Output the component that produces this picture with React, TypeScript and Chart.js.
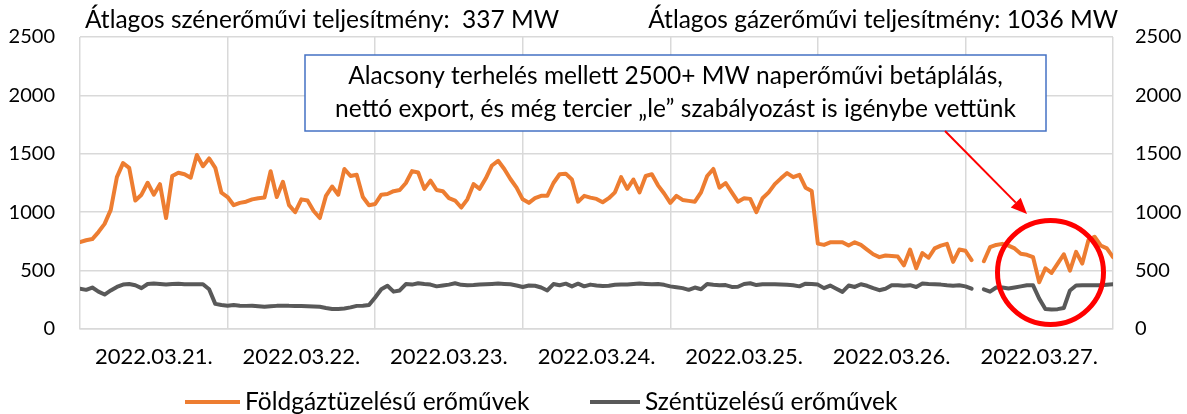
import React, { useEffect, useRef } from 'react';
import { Chart, registerables } from 'chart.js';

Chart.register(...registerables);

// ---- Data ----
const dayLabels = ['2022.03.21.', '2022.03.22.', '2022.03.23.', '2022.03.24.', '2022.03.25.', '2022.03.26.', '2022.03.27.'];

// Hourly values (MW), hour 0 of 03.21 .. hour 0 of 03.28
const gasValues: (number | null)[] = [
  // 03.21
  745, 760, 770, 830, 900, 1020, 1300, 1420, 1380, 1100, 1150, 1252, 1150, 1240, 950, 1310, 1338, 1325, 1295, 1490, 1394, 1460, 1380, 1167,
  // 03.22
  1130, 1060, 1080, 1090, 1110, 1120, 1125, 1350, 1130, 1260, 1060, 1000, 1110, 1100, 1010, 950, 1140, 1220, 1150, 1370, 1310, 1320, 1130, 1060,
  // 03.23
  1070, 1150, 1156, 1180, 1190, 1250, 1352, 1340, 1200, 1270, 1190, 1180, 1120, 1100, 1040, 1110, 1240, 1200, 1290, 1400, 1440, 1370, 1284, 1210,
  // 03.24
  1110, 1080, 1120, 1140, 1140, 1250, 1325, 1330, 1280, 1090, 1140, 1125, 1114, 1085, 1120, 1170, 1300, 1200, 1280, 1170, 1310, 1325, 1230, 1160,
  // 03.25
  1080, 1140, 1105, 1097, 1090, 1170, 1310, 1370, 1210, 1250, 1170, 1090, 1120, 1114, 1000, 1120, 1170, 1240, 1290, 1335, 1300, 1320, 1210, 1182,
  // 03.26
  731, 720, 742, 742, 742, 714, 742, 720, 680, 640, 615, 629, 625, 620, 545, 680, 520, 650, 610, 690, 714, 729, 575, 680,
  // 03.27 (+ final point)
  670, 590, null, 580, 700, 720, 729, 714, 690, 644, 635, 615, 400, 520, 480, 560, 640, 500, 660, 560, 760, 790, 715, 690, 615,
];

const coalValues: (number | null)[] = [
  // 03.21
  345, 335, 355, 320, 295, 330, 360, 380, 385, 375, 350, 385, 390, 385, 380, 385, 388, 383, 383, 383, 383, 340, 215, 205,
  // 03.22
  200, 205, 200, 198, 200, 195, 190, 195, 198, 198, 198, 196, 197, 195, 192, 190, 180, 172, 172, 176, 185, 198, 200, 205,
  // 03.23
  270, 340, 370, 320, 330, 385, 380, 392, 385, 380, 365, 372, 380, 392, 378, 374, 376, 380, 383, 386, 389, 386, 383, 372,
  // 03.24
  360, 372, 370, 355, 330, 385, 375, 388, 365, 388, 365, 380, 372, 368, 370, 378, 382, 380, 385, 389, 386, 383, 385, 378,
  // 03.25
  365, 358, 350, 335, 355, 340, 385, 378, 374, 376, 360, 362, 385, 392, 376, 383, 383, 383, 380, 378, 374, 365, 388, 385,
  // 03.26
  380, 350, 372, 345, 318, 372, 360, 383, 370, 350, 332, 345, 374, 374, 370, 375, 360, 389, 385, 383, 380, 374, 370, 374,
  // 03.27 (+ final point)
  365, 345, null, 340, 320, 355, 355, 346, 355, 365, 374, 374, 260, 172, 167, 170, 180, 330, 372, 374, 374, 375, 374, 378, 383,
];

const seriesNames = ['Földgáztüzelésű erőművek', 'Széntüzelésű erőművek'];
const yTickValues = [0, 500, 1000, 1500, 2000, 2500];
const coalAvgText = 'Átlagos szénerőművi teljesítmény:  337 MW';
const gasAvgText = 'Átlagos gázerőművi teljesítmény: 1036 MW';
const noteLines = [
  'Alacsony terhelés mellett 2500+ MW naperőművi betáplálás,',
  'nettó export, és még tercier „le” szabályozást is igénybe vettünk',
];

// ---- Styles ----
const FONT_FAMILY = 'Lato, "Open Sans", sans-serif';
const TEXT_SIZE = 24.5;
const DATE_SIZE = 22;
const YTICK_SIZE = 20;
const GAS_COLOR = '#ED7D31';
const COAL_COLOR = '#595959';
const GRID_COLOR = '#D9D9D9';
const TEXT_COLOR = '#000000';
const HOURS_PER_DAY = 24;

const annotationPlugin = {
  id: 'annotations',
  afterDraw(chart: any) {
    const ctx = chart.ctx as CanvasRenderingContext2D;
    ctx.save();
    const font = `${TEXT_SIZE}px ${FONT_FAMILY}`;
    ctx.font = font;
    ctx.fillStyle = TEXT_COLOR;
    ctx.textBaseline = 'middle';

    // top average texts
    ctx.textAlign = 'left';
    ctx.fillText(coalAvgText, 85, 20);
    ctx.textAlign = 'right';
    ctx.fillText(gasAvgText, 1118, 20);

    // note box
    const bx = 305, by = 55, bw = 741, bh = 76;
    ctx.fillStyle = '#FFFFFF';
    ctx.fillRect(bx, by, bw, bh);
    ctx.strokeStyle = '#4472C4';
    ctx.lineWidth = 1.5;
    ctx.strokeRect(bx, by, bw, bh);
    ctx.fillStyle = TEXT_COLOR;
    ctx.textAlign = 'center';
    ctx.fillText(noteLines[0], bx + bw / 2, 76);
    ctx.fillText(noteLines[1], bx + bw / 2, 109);

    // red arrow
    const ax0 = 945, ay0 = 131, ax1 = 1027, ay1 = 214;
    const ang = Math.atan2(ay1 - ay0, ax1 - ax0);
    const headLen = 16, headW = 7;
    const hx = ax1 - headLen * Math.cos(ang);
    const hy = ay1 - headLen * Math.sin(ang);
    ctx.strokeStyle = '#FF0000';
    ctx.lineWidth = 2;
    ctx.beginPath();
    ctx.moveTo(ax0, ay0);
    ctx.lineTo(hx, hy);
    ctx.stroke();
    ctx.fillStyle = '#FF0000';
    ctx.beginPath();
    ctx.moveTo(ax1, ay1);
    ctx.lineTo(hx + headW * Math.sin(ang), hy - headW * Math.cos(ang));
    ctx.lineTo(hx - headW * Math.sin(ang), hy + headW * Math.cos(ang));
    ctx.closePath();
    ctx.fill();

    // red circle
    ctx.strokeStyle = '#FF0000';
    ctx.lineWidth = 5;
    ctx.beginPath();
    ctx.ellipse(1050.5, 272.5, 53, 52, 0, 0, Math.PI * 2);
    ctx.stroke();

    // legend
    const ds = chart.data.datasets;
    const legendY = 402;
    const items = [
      { x0: 185, x1: 240, tx: 245 },
      { x0: 590, x1: 640, tx: 645 },
    ];
    ctx.textAlign = 'left';
    ctx.font = font;
    items.forEach((it, i) => {
      ctx.strokeStyle = ds[i].borderColor;
      ctx.lineWidth = 4;
      ctx.lineCap = 'butt';
      ctx.beginPath();
      ctx.moveTo(it.x0, legendY);
      ctx.lineTo(it.x1, legendY);
      ctx.stroke();
      ctx.fillStyle = TEXT_COLOR;
      ctx.fillText(ds[i].label, it.tx, legendY);
    });
    ctx.restore();
  },
};

export default function App() {
  const canvasRef = useRef<HTMLCanvasElement | null>(null);

  useEffect(() => {
    document.body.style.margin = '0';
    const canvas = canvasRef.current;
    if (!canvas) return;
    const toPoints = (arr: (number | null)[]) => arr.map((v, i) => ({ x: i, y: v }));
    const totalHours = dayLabels.length * HOURS_PER_DAY;

    const chart = new Chart(canvas, {
      type: 'line',
      data: {
        datasets: [
          {
            label: seriesNames[0],
            data: toPoints(gasValues) as any,
            borderColor: GAS_COLOR,
            backgroundColor: GAS_COLOR,
            borderWidth: 4,
            pointRadius: 0,
            tension: 0,
            spanGaps: false,
            borderJoinStyle: 'round',
            borderCapStyle: 'round',
            yAxisID: 'y',
          },
          {
            label: seriesNames[1],
            data: toPoints(coalValues) as any,
            borderColor: COAL_COLOR,
            backgroundColor: COAL_COLOR,
            borderWidth: 4,
            pointRadius: 0,
            tension: 0,
            spanGaps: false,
            borderJoinStyle: 'round',
            borderCapStyle: 'round',
            yAxisID: 'y',
          },
        ],
      },
      options: {
        animation: false,
        responsive: true,
        maintainAspectRatio: false,
        layout: { padding: { top: 34, left: 0, right: 0, bottom: 0 } },
        plugins: {
          legend: { display: false },
          tooltip: { enabled: false },
        },
        scales: {
          x: {
            type: 'linear',
            min: 0,
            max: totalHours,
            afterBuildTicks: (axis: any) => {
              const t = [];
              for (let v = 0; v <= totalHours; v += HOURS_PER_DAY / 2) t.push({ value: v });
              axis.ticks = t;
            },
            afterFit: (scale: any) => {
              scale.height = 85;
            },
            ticks: {
              autoSkip: false,
              maxRotation: 0,
              minRotation: 0,
              padding: 15,
              color: TEXT_COLOR,
              font: { family: FONT_FAMILY, size: DATE_SIZE },
              callback: (value: any) => {
                const v = Number(value);
                if (v % HOURS_PER_DAY === HOURS_PER_DAY / 2) return dayLabels[(v - HOURS_PER_DAY / 2) / HOURS_PER_DAY];
                return '';
              },
            },
            grid: {
              drawTicks: false,
              lineWidth: 1.5,
              color: (c: any) => (c.tick && c.tick.value % HOURS_PER_DAY === 0 ? GRID_COLOR : 'rgba(0,0,0,0)'),
            },
            border: { display: true, color: GRID_COLOR, width: 1.5 },
          },
          y: {
            position: 'left',
            min: 0,
            max: 2500,
            afterBuildTicks: (axis: any) => {
              axis.ticks = yTickValues.map((v) => ({ value: v }));
            },
            afterFit: (scale: any) => {
              scale.width = 80;
            },
            ticks: {
              padding: 25,
              color: TEXT_COLOR,
              font: { family: FONT_FAMILY, size: YTICK_SIZE },
              callback: (value: any) => String(value),
            },
            grid: { drawTicks: false, color: GRID_COLOR, lineWidth: 1.5 },
            border: { display: false },
          },
          y2: {
            position: 'right',
            min: 0,
            max: 2500,
            afterBuildTicks: (axis: any) => {
              axis.ticks = yTickValues.map((v) => ({ value: v }));
            },
            afterFit: (scale: any) => {
              scale.width = 74;
            },
            ticks: {
              padding: 22,
              color: TEXT_COLOR,
              font: { family: FONT_FAMILY, size: YTICK_SIZE },
              callback: (value: any) => String(value),
            },
            grid: { display: false, drawTicks: false },
            border: { display: false },
          },
        },
      } as any,
      plugins: [annotationPlugin],
    });

    return () => chart.destroy();
  }, []);

  return (
    <div style={{ position: 'relative', width: '1187px', height: '414px', background: '#fff' }}>
      <canvas ref={canvasRef} />
    </div>
  );
}
